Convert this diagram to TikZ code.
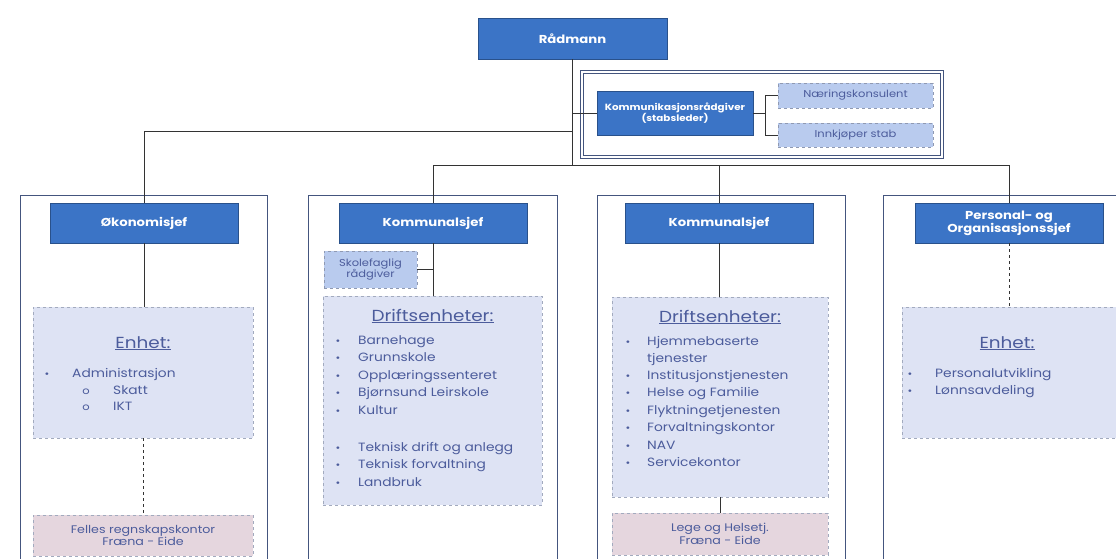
\documentclass[tikz,border=0pt]{standalone}
\usepackage{fontspec}
\setmainfont{Poppins}[FakeStretch=1.15]
\definecolor{chiefblue}{HTML}{3B74C6}
\definecolor{framecol}{HTML}{44557E}
\definecolor{unitfill}{HTML}{DEE3F4}
\definecolor{smallfill}{HTML}{B9CBEE}
\definecolor{pinkfill}{HTML}{E5D6DE}
\definecolor{unittext}{HTML}{4C5C9C}
\tikzset{
  chief/.style={fill=chiefblue, draw=chiefblue!70!black, text=white, font=\bfseries\fontsize{11.5}{13}\selectfont,
    align=center, inner sep=0pt},
  staffbox/.style={fill=smallfill, draw=framecol!60, dashed, text=unittext, font=\fontsize{10}{11.5}\selectfont,
    align=center, inner sep=0pt},
  unitbox/.style={fill=unitfill, draw=framecol!50, dashed, inner sep=0pt},
  sharedbox/.style={fill=pinkfill, draw=framecol!50, dashed, text=unittext, font=\fontsize{11}{12.5}\selectfont,
    align=center, inner sep=0pt},
  colframe/.style={draw=framecol, line width=0.9pt},
  link/.style={draw=black!80, line width=0.8pt},
  head/.style={text=unittext, font=\fontsize{16}{18}\selectfont, anchor=base},
  item/.style={text=unittext, font=\fontsize{12}{14}\selectfont, anchor=base west, inner sep=0pt},
  dot/.style={text=unittext, font=\fontsize{10}{12}\selectfont, anchor=base, inner sep=0pt}
}
\begin{document}
\begin{tikzpicture}[x=1pt,y=-1pt]
  \useasboundingbox[fill=white] (0,0) rectangle (1116,559);
  \clip (0,0) rectangle (1116,559);

  % column frames
  \draw[colframe] (20,570) -- (20,195) -- (267,195) -- (267,570);
  \draw[colframe] (308,570) -- (308,195) -- (557,195) -- (557,570);
  \draw[colframe] (597,570) -- (597,195) -- (845,195) -- (845,570);
  \draw[colframe] (883,570) -- (883,195) -- (1130,195);
  % staff frame
  \draw[framecol, line width=0.6pt, double=white, double distance=2pt] (582,72) rectangle (942,157);

  % top
  \node[chief, minimum width=189pt, minimum height=41pt] (radmann) at (572.5,38.5) {Rådmann};
  \node[chief, minimum width=156pt, minimum height=44pt, font=\bfseries\fontsize{9}{11}\selectfont] (komm) at (675,113)
    {Kommunikasjonsrådgiver\\(stabsleder)};
  \node[staffbox, minimum width=155pt, minimum height=25pt] (naering) at (855.5,95.5) {Næringskonsulent};
  \node[staffbox, minimum width=155pt, minimum height=24pt] (innkjop) at (855.5,135) {Innkjøper stab};

  % chiefs
  \node[chief, minimum width=188pt, minimum height=40pt] (okonomi) at (144,223) {Økonomisjef};
  \node[chief, minimum width=188pt, minimum height=40pt] (kommA) at (433,223) {Kommunalsjef};
  \node[chief, minimum width=188pt, minimum height=40pt] (kommB) at (719,223) {Kommunalsjef};
  \node[chief, minimum width=188pt, minimum height=40pt] (personal) at (1009,223)
    {Personal- og\\Organisasjonssjef};

  % units
  \node[unitbox, minimum width=220pt, minimum height=131pt] (enhetA) at (143,372.5) {};
  \node[sharedbox, minimum width=220pt, minimum height=41pt] (felles) at (143,535.5)
    {Felles regnskapskontor\\Fræna - Eide};
  \node[staffbox, minimum width=93pt, minimum height=37pt] (skole) at (370.5,269.5) {Skolefaglig\\rådgiver};
  \node[unitbox, minimum width=219pt, minimum height=209pt] (driftA) at (432.5,400.5) {};
  \node[unitbox, minimum width=216pt, minimum height=200pt] (driftB) at (720,397) {};
  \node[sharedbox, minimum width=216pt, minimum height=42pt] (helse) at (720,534)
    {Lege og Helsetj.\\Fræna - Eide};
  \node[unitbox, minimum width=223pt, minimum height=131pt] (enhetB) at (1013.5,372.5) {};

  % connectors
  \coordinate (hub) at (radmann.south |- 0,165);
  \draw[link] (radmann.south) -- (hub);
  \draw[link] (radmann.south |- 0,131) -| (okonomi.north);
  \draw[link] (radmann.south |- komm.west) -- (komm.west);
  \draw[link] (kommA.north |- hub) -- (personal.north |- hub);
  \draw[link] (kommA.north |- hub) -- (kommA.north);
  \draw[link] (kommB.north |- hub) -- (kommB.north);
  \draw[link] (personal.north |- hub) -- (personal.north);
  \coordinate (fork) at (765,113);
  \draw[link] (komm.east) -- (fork);
  \draw[link] (fork |- naering.west) -- (fork |- innkjop.west);
  \draw[link] (fork |- naering.west) -- (naering.west);
  \draw[link] (fork |- innkjop.west) -- (innkjop.west);
  \draw[link] (okonomi.south) -- (okonomi.south |- enhetA.north);
  \draw[link, dashed] (enhetA.south) -- (felles.north);
  \draw[link] (kommA.south) -- (kommA.south |- driftA.north);
  \draw[link] (skole.east) -- (kommA.south |- skole.east);
  \draw[link] (kommB.south) -- (kommB.south |- driftB.north);
  \draw[link] (driftB.south) -- (helse.north);
  \draw[link, dashed] (personal.south) -- (personal.south |- enhetB.north);

  % unit texts
  \node[head] (hA) at (143,348) {\underline{Enhet:}};
  \node[dot] at (47,377) {•};
  \node[item] at (72,377) {Administrasjon};
  \node[dot] at (86,394) {o};
  \node[item] at (113,394) {Skatt};
  \node[dot] at (86,410) {o};
  \node[item] at (113,410) {IKT};

  \node[head] (hB) at (432.5,321) {\underline{Driftsenheter:}};
  \foreach \y/\t in {344/Barnehage, 361.5/Grunnskole, 379/Opplæringssenteret, 396.5/Bjørnsund Leirskole,
      414/Kultur, 451/Teknisk drift og anlegg, 468.5/Teknisk forvaltning, 486/Landbruk} {
    \node[dot] at (338,\y) {•};
    \node[item] at (358,\y) {\t};
  }

  \node[head] (hC) at (720,322) {\underline{Driftsenheter:}};
  \foreach \y/\t in {345/Hjemmebaserte, 379/Institusjonstjenesten, 396.5/Helse og Familie,
      414/Flyktningetjenesten, 431.5/Forvaltningskontor, 449/NAV, 466.5/Servicekontor} {
    \node[dot] at (628,\y) {•};
    \node[item] at (647,\y) {\t};
  }
  \node[item] at (647,362) {tjenester};

  \node[head] (hD) at (1007,348) {\underline{Enhet:}};
  \foreach \y/\t in {377/Personalutvikling, 394/Lønnsavdeling} {
    \node[dot] at (910,\y) {•};
    \node[item] at (935,\y) {\t};
  }
\end{tikzpicture}
\end{document}
